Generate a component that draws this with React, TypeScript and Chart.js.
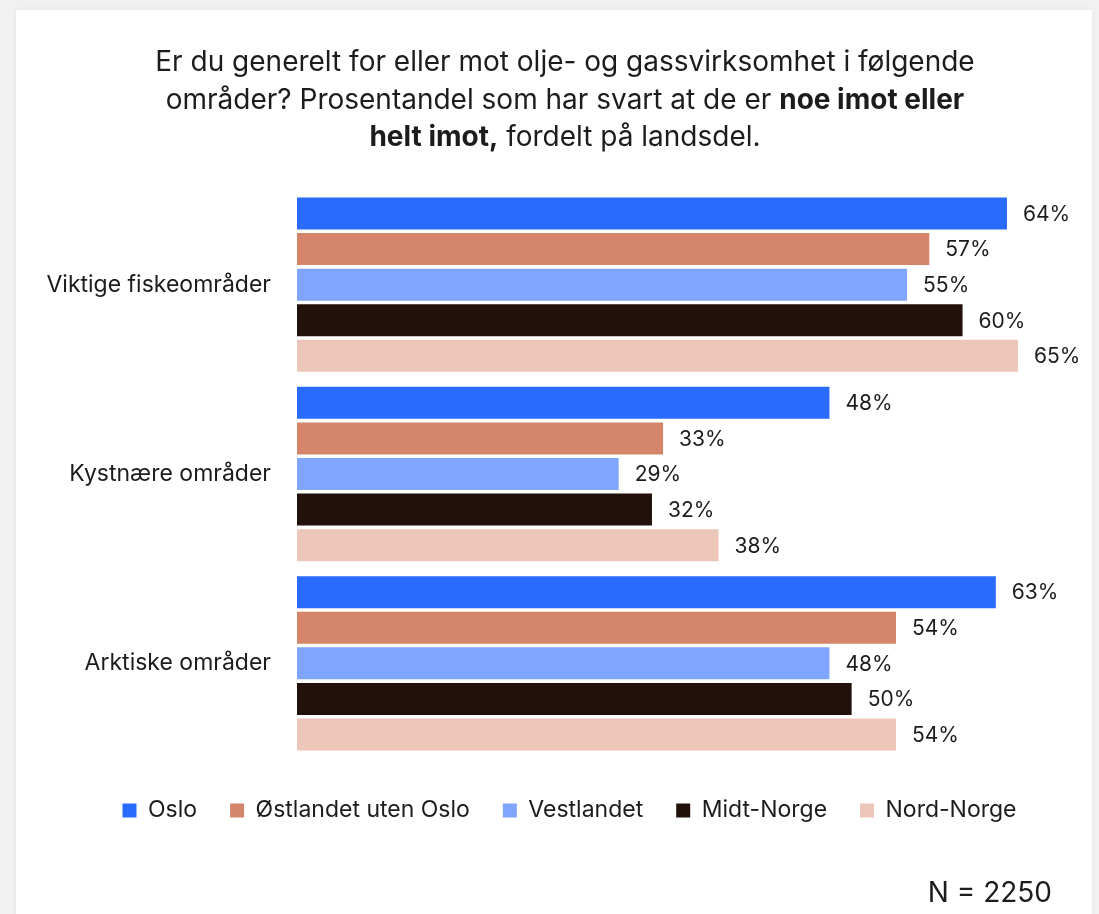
import React, { useEffect, useRef } from "react";
import { Chart, registerables } from "chart.js";

Chart.register(...registerables);

const categories = ["Viktige fiskeområder", "Kystnære områder", "Arktiske områder"];
const seriesNames = ["Oslo", "Østlandet uten Oslo", "Vestlandet", "Midt-Norge", "Nord-Norge"];
const oslo = [64, 48, 63];
const ostlandet = [57, 33, 54];
const vestlandet = [55, 29, 48];
const midtNorge = [60, 32, 50];
const nordNorge = [65, 38, 54];
const seriesValues = [oslo, ostlandet, vestlandet, midtNorge, nordNorge];
const seriesColors = ["#296aff", "#d5856a", "#7fa5ff", "#22110a", "#ecc6b9"];

const FONT = "Inter, 'Noto Sans', sans-serif";
const TEXT = "#1c1c1c";

const valueLabels = {
  id: "valueLabels",
  afterDatasetsDraw(chart: any) {
    const ctx = chart.ctx;
    ctx.save();
    ctx.font = `21px ${FONT}`;
    ctx.fillStyle = TEXT;
    ctx.textAlign = "left";
    ctx.textBaseline = "middle";
    chart.data.datasets.forEach((ds: any, i: number) => {
      const meta = chart.getDatasetMeta(i);
      meta.data.forEach((bar: any, j: number) => {
        ctx.fillText(`${ds.data[j]}%`, bar.x + 16, bar.y + 1);
      });
    });
    ctx.restore();
  },
};

export default function App() {
  const canvasRef = useRef<HTMLCanvasElement | null>(null);

  useEffect(() => {
    document.body.style.margin = "0";
    const canvas = canvasRef.current;
    if (!canvas) return;
    const chart = new Chart(canvas, {
      type: "bar",
      data: {
        labels: categories,
        datasets: seriesNames.map((name, i) => ({
          label: name,
          data: seriesValues[i],
          backgroundColor: seriesColors[i],
          borderWidth: 0,
          categoryPercentage: 0.94,
          barPercentage: 0.9,
        })),
      },
      options: {
        indexAxis: "y",
        animation: false,
        responsive: false,
        devicePixelRatio: 1,
        layout: { padding: { top: 190, left: 40, right: 0, bottom: 82 } },
        scales: {
          x: {
            display: false,
            min: 0,
            max: 72.3,
          },
          y: {
            grid: { display: false, drawTicks: false },
            border: { display: false },
            ticks: {
              color: TEXT,
              padding: 26,
              font: { family: FONT, size: 23 },
            },
            afterFit: (scale: any) => {
              scale.width = 257;
            },
          },
        },
        plugins: {
          legend: {
            position: "bottom",
            title: { display: true, text: "", padding: { top: 7, bottom: 0 }, font: { size: 1, lineHeight: 1 } },
            labels: {
              boxWidth: 14,
              boxHeight: 14,
              padding: 33,
              color: TEXT,
              font: { family: FONT, size: 23 },
            },
          },
          tooltip: { enabled: false },
        },
      },
      plugins: [valueLabels],
    });
    return () => chart.destroy();
  }, []);

  return (
    <div style={{ position: "fixed", left: 0, top: 0, width: 1099, height: 914, overflow: "hidden", background: "#f1f1f1" }}>
      <div
        style={{
          position: "absolute",
          left: 16,
          top: 10,
          width: 1076,
          height: 930,
          background: "#ffffff",
          boxShadow: "0 0 6px rgba(0,0,0,0.06)",
        }}
      />
      <canvas ref={canvasRef} width={1099} height={914} style={{ position: "absolute", left: 0, top: 0 }} />
      <div
        style={{
          position: "absolute",
          left: 65,
          top: 43,
          width: 1000,
          textAlign: "center",
          fontFamily: FONT,
          fontSize: 28,
          lineHeight: "37.5px",
          color: TEXT,
          whiteSpace: "nowrap",
        }}
      >
        <div>Er du generelt for eller mot olje- og gassvirksomhet i følgende</div>
        <div>
          områder? Prosentandel som har svart at de er <b>noe imot eller</b>
        </div>
        <div>
          <b>helt imot,</b> fordelt på landsdel.
        </div>
      </div>
      <div
        style={{
          position: "absolute",
          right: 47,
          top: 875,
          fontFamily: FONT,
          fontSize: 28,
          lineHeight: "34px",
          color: TEXT,
        }}
      >
        N = 2250
      </div>
    </div>
  );
}
